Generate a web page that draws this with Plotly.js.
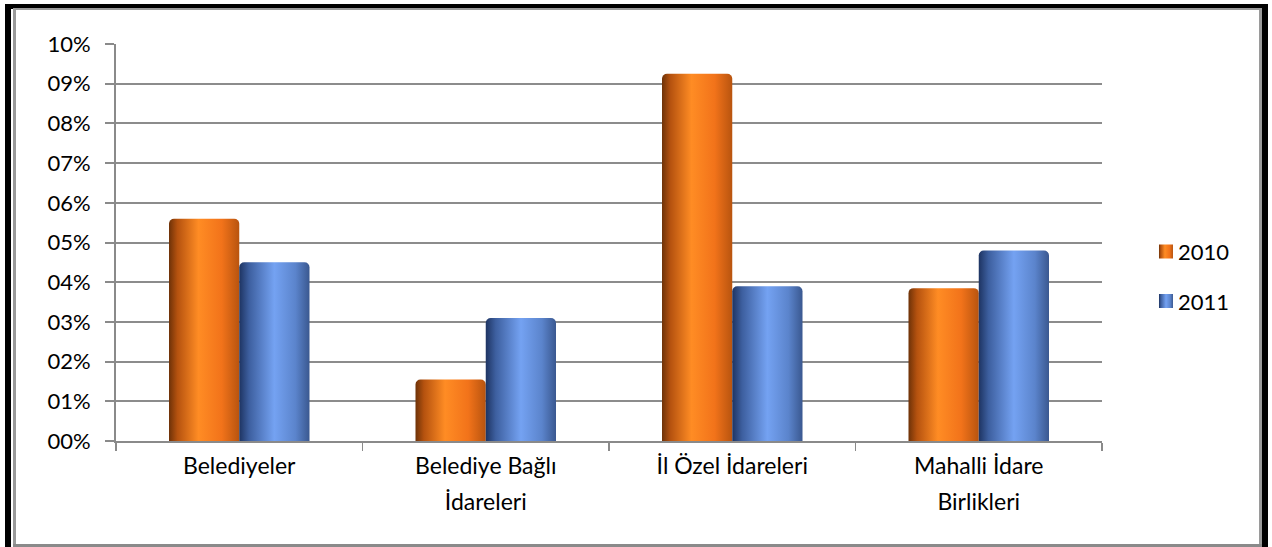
<!DOCTYPE html>
<html>
<head>
<meta charset="utf-8">
<script src="https://cdn.plot.ly/plotly-3.0.1.min.js"></script>
<style>
  html, body { margin:0; padding:0; background:#fff; width:1272px; height:547px; overflow:hidden; }
  #chart { position:absolute; left:0; top:0; width:1272px; height:547px; }
  .fr { position:absolute; pointer-events:none; }
</style>
</head>
<body>
<svg width="0" height="0" style="position:absolute">
  <defs>
    <linearGradient id="gOrange" x1="0" y1="0" x2="1" y2="0">
      <stop offset="0" stop-color="#6e3208"/>
      <stop offset="0.12" stop-color="#b5520f"/>
      <stop offset="0.42" stop-color="#ff8c24"/>
      <stop offset="0.75" stop-color="#f2731a"/>
      <stop offset="1" stop-color="#b8540f"/>
    </linearGradient>
    <linearGradient id="gBlue" x1="0" y1="0" x2="1" y2="0">
      <stop offset="0" stop-color="#1e3462"/>
      <stop offset="0.14" stop-color="#3d5f9f"/>
      <stop offset="0.5" stop-color="#74a2f2"/>
      <stop offset="0.8" stop-color="#5b84cc"/>
      <stop offset="1" stop-color="#3a5890"/>
    </linearGradient>
  </defs>
</svg>
<div id="chart"></div>
<!-- frame -->
<div class="fr" style="left:5px; top:4px; width:6px; height:543px; background:#000;"></div>
<div class="fr" style="left:5px; top:4px; width:1263px; height:5px; background:#000;"></div>
<div class="fr" style="left:1262px; top:4px; width:6px; height:543px; background:#000;"></div>
<div class="fr" style="left:13px; top:8px; width:3px; height:539px; background:#9a9a9a;"></div>
<div class="fr" style="left:13px; top:8px; width:1249px; height:2px; background:#9a9a9a;"></div>
<div class="fr" style="left:1259px; top:8px; width:3px; height:539px; background:#9a9a9a;"></div>
<div class="fr" style="left:13px; top:544px; width:1249px; height:3px; background:#8a8a8a;"></div>
<script>
const categories = ["Belediyeler", "Belediye Bağlı<br>İdareleri", "İl Özel İdareleri", "Mahalli İdare<br>Birlikleri"];
const seriesNames = ["2010", "2011"];
const values2010 = [5.6, 1.55, 9.25, 3.85];
const values2011 = [4.5, 3.1, 3.9, 4.8];
const yTickVals = [0, 1, 2, 3, 4, 5, 6, 7, 8, 9, 10];
const yTickText = ["00%", "01%", "02%", "03%", "04%", "05%", "06%", "07%", "08%", "09%", "10%"];

const fontFam = "Lato, 'Open Sans', sans-serif";
const traces = [
  { type:'bar', name:seriesNames[0], x:categories, y:values2010, legendgroup:'a',
    marker:{ color:'#f07a1c', cornerradius:5, line:{width:0} } },
  { type:'bar', name:seriesNames[1], x:categories, y:values2011, legendgroup:'b',
    marker:{ color:'#5b86d6', cornerradius:5, line:{width:0} } }
];
const layout = {
  width:1272, height:547,
  margin:{ l:116, r:170, t:44, b:105.5, pad:0 },
  paper_bgcolor:'rgba(0,0,0,0)', plot_bgcolor:'rgba(0,0,0,0)',
  barmode:'group', bargap:0.43, bargroupgap:0,
  font:{ family:fontFam, size:21, color:'#000' },
  showlegend:true,
  legend:{ x:1.0365, xanchor:'left', y:0.414, yanchor:'middle', font:{ size:22, family:fontFam },
           tracegroupgap:18, traceorder:'grouped', bgcolor:'rgba(0,0,0,0)' },
  xaxis:{ type:'category', tickson:'boundaries', ticks:'outside', ticklen:8, tickwidth:1.5,
          tickcolor:'#8a8a8a', showline:true, linecolor:'#8a8a8a', linewidth:2,
          showgrid:false, zeroline:false, tickfont:{ size:23, family:fontFam }, automargin:false },
  yaxis:{ range:[0,10], tickvals:yTickVals, ticktext:yTickText, ticks:'outside', ticklen:9,
          tickwidth:2, tickcolor:'#8a8a8a', showline:true, linecolor:'#8a8a8a', linewidth:2,
          showgrid:true, gridcolor:'#8c8c8c', gridwidth:2, zeroline:false,
          tickfont:{ size:22, family:fontFam }, ticklabelstandoff:10, automargin:false }
};
Plotly.newPlot('chart', traces, layout, { staticPlot:true, displayModeBar:false }).then(function(gd){
  const grads = ['url(#gOrange)', 'url(#gBlue)'];
  gd.querySelectorAll('.barlayer .trace.bars').forEach(function(tr, i){
    tr.querySelectorAll('path').forEach(function(p){ p.style.fill = grads[i % 2]; });
  });
  gd.querySelectorAll('.legend .traces').forEach(function(tr, i){
    tr.querySelectorAll('.legendpoints path').forEach(function(p){
      p.style.fill = grads[i % 2];
      p.setAttribute('d', 'M1,7H15V-7H1Z');
    });
  });
  gd.querySelectorAll('.xtick text').forEach(function(t){
    t.querySelectorAll('tspan.line').forEach(function(s, k){
      if (k > 0) s.setAttribute('dy', '1.6em');
    });
    t.setAttribute('transform', (t.getAttribute('transform') || '') + ' translate(0,3)');
  });
});
</script>
</body>
</html>
